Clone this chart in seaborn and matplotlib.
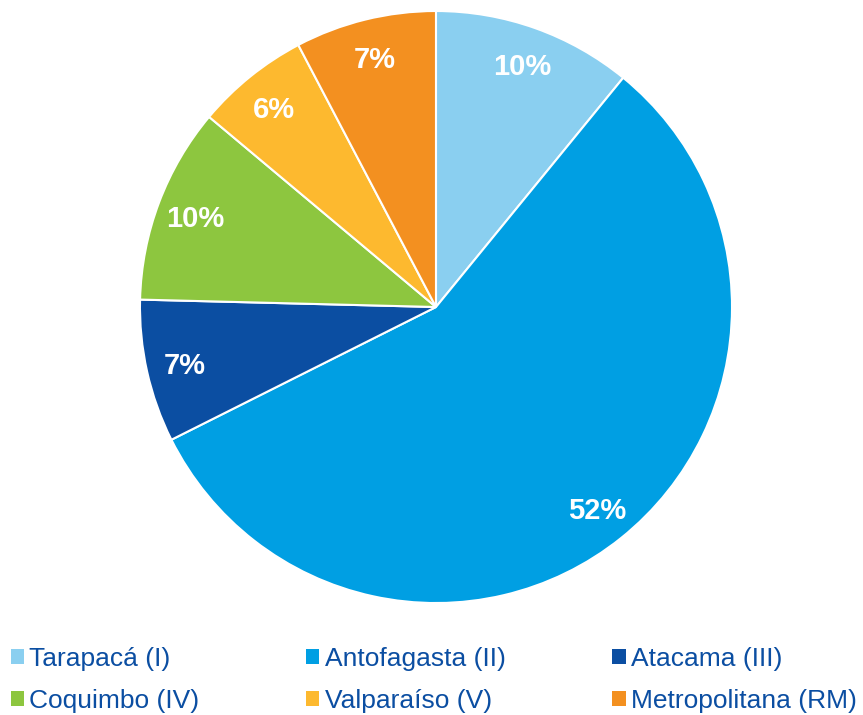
import matplotlib
matplotlib.use("Agg")
import matplotlib.pyplot as plt
import seaborn as sns
import numpy as np
from matplotlib.patches import Patch

# regions and their shares (measured from slice angles), printed labels as shown
regions = ["Tarapacá (I)", "Antofagasta (II)", "Atacama (III)",
           "Coquimbo (IV)", "Valparaíso (V)", "Metropolitana (RM)"]
shares = [10.9, 56.7, 7.8, 10.7, 6.2, 7.7]
pct_labels = ["10%", "52%", "7%", "10%", "6%", "7%"]
colors = ["#8ACFF0", "#009FE3", "#0B4EA2", "#8DC63F", "#FDB92F", "#F39020"]

sns.set_theme(style="white")
plt.rcParams["font.family"] = ["Liberation Sans", "DejaVu Sans"]

fig = plt.figure(figsize=(8.63, 7.15), dpi=100)
ax = fig.add_axes([0.1622, 0.1566, 0.686, 0.828])

palette = sns.color_palette(colors)
wedges, _ = ax.pie(shares, colors=palette, startangle=90, counterclock=False,
                   wedgeprops=dict(edgecolor="white", linewidth=1.5))

# printed percentage labels at each wedge's mid angle
for w, txt in zip(wedges, pct_labels):
    ang = np.deg2rad((w.theta1 + w.theta2) / 2)
    ax.text(0.87 * np.cos(ang), 0.87 * np.sin(ang), txt, ha="center",
            va="center_baseline", color="white", fontsize=21, fontweight="bold")

ax.set_xlim(-1.0, 1.0)
ax.set_ylim(-1.0, 1.0)
ax.set_aspect("equal")
ax.axis("off")

# legend fills column by column, so reorder to read across rows
order = [0, 3, 1, 4, 2, 5]
handles = [Patch(facecolor=palette[i], edgecolor="none") for i in order]
labels = [regions[i] for i in order]
leg = fig.legend(handles, labels, ncol=3, loc="lower left",
                 bbox_to_anchor=(0.0, -0.012, 1.005, 0.12), mode="expand",
                 frameon=False, handlelength=0.5, handleheight=0.5,
                 handletextpad=0.2, labelspacing=0.68, borderaxespad=0.0,
                 prop={"size": 19})
for t in leg.get_texts():
    t.set_color("#0B4EA2")

fig.savefig("out.png", dpi=100, facecolor="white")
